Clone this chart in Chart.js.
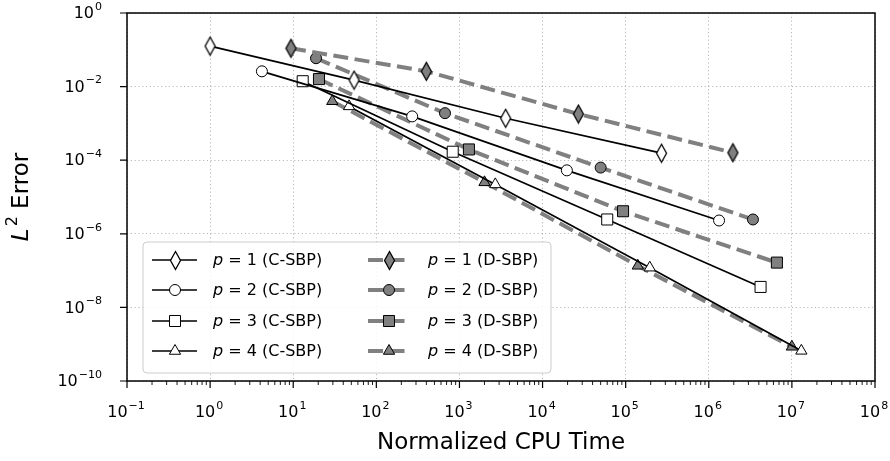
<!DOCTYPE html>
<html>
<head>
<meta charset="utf-8">
<script src="https://cdn.jsdelivr.net/npm/chart.js@4.4.1/dist/chart.umd.min.js"></script>
<style>
  html, body { margin: 0; padding: 0; background: #ffffff; }
  #wrap { width: 890px; height: 461px; }
</style>
</head>
<body>
<div id="wrap"><canvas id="errChart" width="890" height="461"></canvas></div>
<script>
// ----------------------------------------------------------------------------
// Data (normalized CPU time vs L2 error)
// ----------------------------------------------------------------------------
const cTimeP1 = [1.0, 54, 3.6e3, 2.7e5];
const cErrP1  = [1.26e-1, 1.5e-2, 1.38e-3, 1.55e-4];
const cTimeP2 = [4.2, 270, 1.96e4, 1.33e6];
const cErrP2  = [2.6e-2, 1.55e-3, 5.3e-5, 2.3e-6];
const cTimeP3 = [13, 830, 6.0e4, 4.2e6];
const cErrP3  = [1.4e-2, 1.7e-4, 2.45e-6, 3.6e-8];
const cTimeP4 = [47, 2700, 1.95e5, 1.3e7];
const cErrP4  = [2.9e-3, 2.2e-5, 1.2e-7, 6.6e-10];

const dTimeP1 = [9.4, 400, 2.7e4, 1.95e6];
const dErrP1  = [1.1e-1, 2.6e-2, 1.8e-3, 1.6e-4];
const dTimeP2 = [18.8, 670, 5.0e4, 3.4e6];
const dErrP2  = [5.9e-2, 1.9e-3, 6.3e-5, 2.45e-6];
const dTimeP3 = [20.4, 1300, 9.3e4, 6.6e6];
const dErrP3  = [1.6e-2, 1.96e-4, 4.1e-6, 1.65e-7];
const dTimeP4 = [29.5, 2000, 1.4e5, 1.0e7];
const dErrP4  = [4.0e-3, 2.5e-5, 1.35e-7, 8.5e-10];

const seriesLabels = ['1 (C-SBP)', '2 (C-SBP)', '3 (C-SBP)', '4 (C-SBP)',
                      '1 (D-SBP)', '2 (D-SBP)', '3 (D-SBP)', '4 (D-SBP)'];

const xTickExps = [-1, 0, 1, 2, 3, 4, 5, 6, 7, 8];
const yTickExps = [0, -2, -4, -6, -8, -10];

// ----------------------------------------------------------------------------
// Markers
// ----------------------------------------------------------------------------
const GRAY = '#808080';

function thinDiamond(fill) {
    const c = document.createElement('canvas');
    c.width = 13; c.height = 21;
    const g = c.getContext('2d');
    g.beginPath();
    g.moveTo(6.5, 1.5);
    g.lineTo(11.5, 10.5);
    g.lineTo(6.5, 19.5);
    g.lineTo(1.5, 10.5);
    g.closePath();
    g.fillStyle = fill;
    g.fill();
    g.lineWidth = 1.3;
    g.strokeStyle = '#000';
    g.stroke();
    return c;
}
const diamondWhite = thinDiamond('#ffffff');
const diamondGray = thinDiamond(GRAY);

const markerStyles = [
    { style: diamondWhite, radius: 7 },
    { style: 'circle', radius: 5.5 },
    { style: 'rect', radius: 7.8 },
    { style: 'triangle', radius: 6.5 }
];
const markerStylesD = [
    { style: diamondGray, radius: 7 },
    { style: 'circle', radius: 5.5 },
    { style: 'rect', radius: 7.8 },
    { style: 'triangle', radius: 6.5 }
];

function toPoints(xs, ys) {
    return xs.map((x, i) => ({ x: x, y: ys[i] }));
}

function cDataset(i, xs, ys) {
    return {
        label: 'p = ' + seriesLabels[i],
        data: toPoints(xs, ys),
        borderColor: '#000000',
        borderWidth: 1.7,
        pointStyle: markerStyles[i].style,
        pointRadius: markerStyles[i].radius,
        pointBackgroundColor: '#ffffff',
        pointBorderColor: '#000000',
        pointBorderWidth: 1,
        tension: 0,
        order: 0
    };
}

function dDataset(i, xs, ys) {
    return {
        label: 'p = ' + seriesLabels[i + 4],
        data: toPoints(xs, ys),
        borderColor: GRAY,
        borderWidth: 4,
        borderDash: [15, 6.5],
        pointStyle: markerStylesD[i].style,
        pointRadius: markerStylesD[i].radius,
        pointBackgroundColor: GRAY,
        pointBorderColor: '#000000',
        pointBorderWidth: 1,
        tension: 0,
        order: 1
    };
}

const datasets = [
    cDataset(0, cTimeP1, cErrP1),
    cDataset(1, cTimeP2, cErrP2),
    cDataset(2, cTimeP3, cErrP3),
    cDataset(3, cTimeP4, cErrP4),
    dDataset(0, dTimeP1, dErrP1),
    dDataset(1, dTimeP2, dErrP2),
    dDataset(2, dTimeP3, dErrP3),
    dDataset(3, dTimeP4, dErrP4)
];

// ----------------------------------------------------------------------------
// Drawing helpers (axes decorations, matplotlib-like legend)
// ----------------------------------------------------------------------------
const FONT = '"DejaVu Sans", "Liberation Sans", sans-serif';

function drawMarker(ctx, m, fill, x, y) {
    ctx.save();
    ctx.fillStyle = fill;
    ctx.strokeStyle = '#000';
    ctx.lineWidth = 1;
    ctx.setLineDash([]);
    if (typeof m.style !== 'string') {
        ctx.drawImage(m.style, Math.round(x - m.style.width / 2), Math.round(y - m.style.height / 2));
        ctx.restore();
        return;
    }
    ctx.beginPath();
    const r = m.radius;
    if (m.style === 'circle') {
        ctx.arc(x, y, r, 0, Math.PI * 2);
    } else if (m.style === 'rect') {
        const s = r * Math.SQRT1_2;
        ctx.rect(x - s, y - s, 2 * s, 2 * s);
    } else if (m.style === 'triangle') {
        for (let k = 0; k < 3; k++) {
            const a = k * 2 * Math.PI / 3;
            const px = x + Math.sin(a) * r, py = y - Math.cos(a) * r;
            if (k === 0) ctx.moveTo(px, py); else ctx.lineTo(px, py);
        }
        ctx.closePath();
    }
    ctx.fill();
    ctx.stroke();
    ctx.restore();
}

function powerLabel(exp) {
    return exp < 0 ? '\u2212' + Math.abs(exp) : String(exp);
}

function drawPow(ctx, exp, x, y, align) {
    const base = '10', sup = powerLabel(exp);
    ctx.font = '16px ' + FONT;
    const wb = ctx.measureText(base).width;
    ctx.font = '11px ' + FONT;
    const ws = ctx.measureText(sup).width;
    const w = wb + ws + 1;
    let x0 = align === 'right' ? x - w : x - w / 2;
    ctx.textBaseline = 'middle';
    ctx.textAlign = 'left';
    ctx.fillStyle = '#000';
    ctx.font = '16px ' + FONT;
    ctx.fillText(base, x0, y);
    ctx.font = '11px ' + FONT;
    ctx.fillText(sup, x0 + wb + 1, y - 7);
}

const decorPlugin = {
    id: 'decor',
    afterDraw(chart) {
        const ctx = chart.ctx;
        const area = chart.chartArea;
        const xs = chart.scales.x, ys = chart.scales.y;
        ctx.save();

        // frame
        ctx.strokeStyle = '#000';
        ctx.lineWidth = 1.5;
        ctx.setLineDash([]);
        ctx.strokeRect(area.left, area.top, area.right - area.left, area.bottom - area.top);

        // x ticks (major + minor)
        ctx.lineWidth = 1.2;
        ctx.beginPath();
        xTickExps.forEach(e => {
            const px = xs.getPixelForValue(Math.pow(10, e));
            ctx.moveTo(px, area.bottom);
            ctx.lineTo(px, area.bottom + 7);
        });
        ctx.stroke();
        ctx.lineWidth = 0.9;
        ctx.beginPath();
        for (let e = xTickExps[0]; e < xTickExps[xTickExps.length - 1]; e++) {
            for (let m = 2; m <= 9; m++) {
                const px = xs.getPixelForValue(m * Math.pow(10, e));
                ctx.moveTo(px, area.bottom);
                ctx.lineTo(px, area.bottom + 4);
            }
        }
        ctx.stroke();

        // y ticks
        ctx.lineWidth = 1.2;
        ctx.beginPath();
        yTickExps.forEach(e => {
            const py = ys.getPixelForValue(Math.pow(10, e));
            ctx.moveTo(area.left, py);
            ctx.lineTo(area.left - 7, py);
        });
        ctx.stroke();

        // tick labels
        xTickExps.forEach(e => {
            drawPow(ctx, e, xs.getPixelForValue(Math.pow(10, e)) - 1, area.bottom + 32, 'center');
        });
        yTickExps.forEach(e => {
            drawPow(ctx, e, area.left - 25, ys.getPixelForValue(Math.pow(10, e)) + 1, 'right');
        });

        // axis titles
        ctx.fillStyle = '#000';
        ctx.textAlign = 'center';
        ctx.textBaseline = 'middle';
        ctx.font = '23px ' + FONT;
        ctx.fillText('Normalized CPU Time', (area.left + area.right) / 2, 443);

        ctx.save();
        ctx.translate(22, (area.top + area.bottom) / 2);
        ctx.rotate(-Math.PI / 2);
        ctx.font = 'italic 23px ' + FONT;
        const wL = ctx.measureText('L').width;
        ctx.font = '16px ' + FONT;
        const w2 = ctx.measureText('2').width;
        ctx.font = '23px ' + FONT;
        const wE = ctx.measureText(' Error').width;
        let tx = -(wL + w2 + 2 + wE) / 2;
        ctx.textAlign = 'left';
        ctx.font = 'italic 23px ' + FONT;
        ctx.fillText('L', tx, 0);
        tx += wL + 2;
        ctx.font = '16px ' + FONT;
        ctx.fillText('2', tx, -9);
        tx += w2;
        ctx.font = '23px ' + FONT;
        ctx.fillText(' Error', tx, 0);
        ctx.restore();

        // legend
        const bx = 143, by = 242, bw = 408, bh = 131;
        ctx.beginPath();
        ctx.roundRect(bx, by, bw, bh, 4);
        ctx.fillStyle = 'rgba(255,255,255,0.85)';
        ctx.fill();
        ctx.strokeStyle = '#cccccc';
        ctx.lineWidth = 1;
        ctx.stroke();

        const rows = [260, 290, 321, 351];
        const cols = [
            { l0: 152, l1: 197, mx: 175, tx: 213 },
            { l0: 368, l1: 406, mx: 389, tx: 428 }
        ];
        for (let c = 0; c < 2; c++) {
            for (let r = 0; r < 4; r++) {
                const ds = datasets[c * 4 + r];
                const col = cols[c], y = rows[r];
                ctx.beginPath();
                ctx.strokeStyle = ds.borderColor;
                ctx.lineWidth = ds.borderWidth;
                ctx.setLineDash(ds.borderDash || []);
                ctx.moveTo(col.l0, y);
                ctx.lineTo(col.l1, y);
                ctx.stroke();
                ctx.setLineDash([]);
                const m = c === 0 ? markerStyles[r] : markerStylesD[r];
                drawMarker(ctx, m, ds.pointBackgroundColor, col.mx, y);

                ctx.fillStyle = '#000';
                ctx.textAlign = 'left';
                ctx.textBaseline = 'middle';
                ctx.font = 'italic 16px ' + FONT;
                ctx.fillText('p', col.tx, y + 1);
                const wp = ctx.measureText('p').width;
                ctx.font = '16px ' + FONT;
                ctx.fillText(' = ' + seriesLabels[c * 4 + r], col.tx + wp, y + 1);
            }
        }
        ctx.restore();
    }
};

// ----------------------------------------------------------------------------
// Chart
// ----------------------------------------------------------------------------
const ctx = document.getElementById('errChart').getContext('2d');
const chart = new Chart(ctx, {
    type: 'line',
    data: { datasets: datasets },
    options: {
        responsive: false,
        animation: false,
        layout: { padding: { top: 13, right: 15, left: 0, bottom: 0 } },
        plugins: {
            legend: { display: false },
            tooltip: { enabled: false }
        },
        scales: {
            x: {
                type: 'logarithmic',
                min: 1e-1,
                max: 1e8,
                afterBuildTicks: (scale) => {
                    scale.ticks = xTickExps.map(e => ({ value: Math.pow(10, e) }));
                },
                afterFit: (scale) => { scale.height = 80; },
                ticks: { display: false },
                border: { display: false, dash: [1.2, 2.6] },
                grid: { color: '#b0b0b0', lineWidth: 0.9, drawTicks: false }
            },
            y: {
                type: 'logarithmic',
                min: 1e-10,
                max: 1e0,
                afterBuildTicks: (scale) => {
                    scale.ticks = yTickExps.map(e => ({ value: Math.pow(10, e) }));
                },
                afterFit: (scale) => { scale.width = 127; },
                ticks: { display: false },
                border: { display: false, dash: [1.2, 2.6] },
                grid: { color: '#b0b0b0', lineWidth: 0.9, drawTicks: false }
            }
        }
    },
    plugins: [decorPlugin]
});
</script>
</body>
</html>
